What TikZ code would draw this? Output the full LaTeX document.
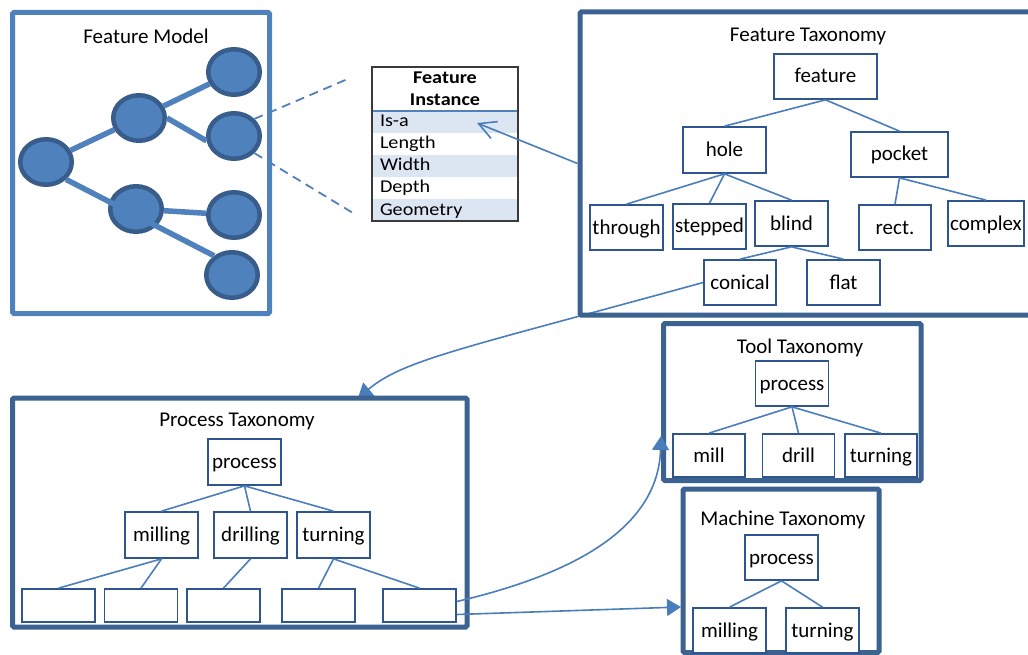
\documentclass[tikz,border=0pt]{standalone}
\usepackage{fontspec}
\setmainfont{Carlito}
\newfontfamily\tblfont[FakeStretch=1.12]{Carlito}
\usetikzlibrary{arrows.meta,calc,shapes.geometric}
\definecolor{fmblue}{HTML}{4F81BD}
\definecolor{ringblue}{HTML}{385D8A}
\definecolor{taxblue}{HTML}{3B6290}
\definecolor{nodeblue}{HTML}{2E5590}
\definecolor{connblue}{HTML}{4A7EBB}
\definecolor{rowfill}{HTML}{DCE6F2}
\definecolor{tblline}{HTML}{3A3A3A}
\pgfdeclarelayer{bg}
\pgfsetlayers{bg,main}
\begin{document}
\begin{tikzpicture}[x=1pt,y=-1pt,
  lbl/.style={font=\fontsize{21}{25}\selectfont, inner sep=0pt},
  tbox/.style={draw=nodeblue, line width=1.7pt, fill=white, inner sep=0pt,
    minimum width=73pt, minimum height=45pt, text height=15pt, text depth=2pt,
    font=\fontsize{21}{25}\selectfont},
  leafbox/.style={tbox, minimum height=33pt},
  taxframe/.style={draw=taxblue, line width=5pt, inner sep=0pt, rounded corners=1.5pt},
  fmframe/.style={draw=fmblue, line width=5pt, inner sep=0pt, rounded corners=1.5pt},
  conn/.style={draw=connblue, line width=1.6pt},
  fmnode/.style={ellipse, draw=ringblue, fill=fmblue, line width=4.5pt,
    minimum width=51.5pt, minimum height=45.5pt, inner sep=0pt},
  fmedge/.style={draw=fmblue, line width=5.5pt},
  dashlink/.style={draw=fmblue, line width=1.8pt, dash pattern=on 9pt off 6pt},
  hdr/.style={font=\tblfont\bfseries\fontsize{18}{22}\selectfont, align=center,
    minimum width=146pt, minimum height=44pt, inner sep=0pt},
  tblrow/.style={font=\tblfont\fontsize{18}{22}\selectfont, text width=130pt, align=left,
    inner xsep=8pt, inner ysep=0pt, minimum height=22pt, text height=13pt, text depth=3pt},
  tiparrow/.style={-{Triangle[length=14pt,width=17pt]}},
  barbarrow/.style={-{Straight Barb[length=17pt,width=18pt]}}
]
\useasboundingbox (0,0) rectangle (1028,655);
\begin{pgfonlayer}{bg}
  \fill[white] (0,0) rectangle (1028,655);
\end{pgfonlayer}

% ---------- Feature model ----------
\node[fmframe, minimum width=257pt, minimum height=301pt] (fm) at (141,163) {};
\node[lbl] (fmtitle) at (146,36) {Feature Model};
\node[fmnode] (c1) at (46,162) {};
\node[fmnode] (c2) at (139,118) {};
\node[fmnode] (c3) at (234,72) {};
\node[fmnode] (c4) at (234,136) {};
\node[fmnode] (c5) at (136,209) {};
\node[fmnode] (c6) at (234,215) {};
\node[fmnode] (c7) at (232,275) {};
\draw[fmedge] (c1) -- (c2);
\draw[fmedge] (c2) -- (c3);
\draw[fmedge] (c2.0) -- (c4.190);
\draw[fmedge] (c5) -- (c6);
\draw[fmedge] (c1.-41) -- (c7.133);

% dashed callout towards the instance table
\coordinate (dtop) at (350,78);
\coordinate (dbot) at (353,213);
\draw[dashlink] (c4.40) -- (dtop);
\draw[dashlink] (c4.-40) -- (dbot);

% ---------- Feature instance table ----------
\node[hdr] (fihead) at (445,89) {Feature\\Instance};
\node[tblrow, fill=rowfill] (isa) at (445,122) {Is-a};
\node[tblrow] (len) at (445,144) {Length};
\node[tblrow, fill=rowfill] (wid) at (445,166) {Width};
\node[tblrow] (dep) at (445,188) {Depth};
\node[tblrow, fill=rowfill] (geo) at (445,210) {Geometry};
\draw[fmblue, line width=1.5pt] (fihead.south west) -- (fihead.south east);
\draw[tblline, line width=1.6pt] (fihead.north west) rectangle (geo.south east);

% ---------- Feature taxonomy ----------
\node[taxframe, minimum width=455pt, minimum height=303pt] (ftax) at (807.5,163.5) {};
\node[lbl] (ftitle) at (808,36) {Feature Taxonomy};
\node[tbox, minimum width=103pt] (feature) at (825.5,76.5) {feature};
\node[tbox, minimum width=83pt, minimum height=46pt] (hole) at (724.5,150) {hole};
\node[tbox, minimum width=97pt] (pocket) at (899.5,154.5) {pocket};
\node[tbox] (through) at (626.5,227.5) {through};
\node[tbox] (stepped) at (709.5,226.5) {stepped};
\node[tbox] (blind) at (791.5,223.5) {blind};
\node[tbox, minimum width=72pt] (rect) at (895,227.5) {rect.};
\node[tbox, minimum width=76pt] (complex) at (986,223.5) {complex};
\node[tbox, minimum width=72pt] (conical) at (740,282.5) {conical};
\node[tbox] (flat) at (843.5,282.5) {flat};
\draw[conn] (feature.south) -- (hole.north);
\draw[conn] (feature.south) -- (pocket.north);
\draw[conn] (hole.south) -- (through.north);
\draw[conn] (hole.south) -- (stepped.north);
\draw[conn] (hole.south) -- (blind.north);
\draw[conn] (pocket.south) -- (rect.north);
\draw[conn] (pocket.south) -- (complex.north);
\draw[conn] (blind.south) -- (conical.north);
\draw[conn] (blind.south) -- (flat.north);

% is-a link into the table
\coordinate (isain) at (477,123);
\draw[conn, barbarrow] (ftax.west) -- (isain);

% ---------- Process taxonomy ----------
\node[taxframe, minimum width=454.5pt, minimum height=229pt] (ptax) at (239.75,512.5) {};
\node[lbl] (ptitle) at (237,421) {Process Taxonomy};
\node[tbox, minimum height=46pt] (pproc) at (244.5,462) {process};
\node[tbox, minimum height=46pt] (pmill) at (161.5,535) {milling};
\node[tbox, minimum height=46pt] (pdrill) at (250.5,535) {drilling};
\node[tbox, minimum height=46pt] (pturn) at (333.5,535) {turning};
\node[leafbox] (l1) at (58.5,605.5) {};
\node[leafbox] (l2) at (141,605.5) {};
\node[leafbox] (l3) at (223.5,605.5) {};
\node[leafbox] (l4) at (318.5,605.5) {};
\node[leafbox] (l5) at (419.5,605.5) {};
\draw[conn] (pproc.south) -- (pmill.north);
\draw[conn] (pproc.south) -- (pdrill.north);
\draw[conn] (pproc.south) -- (pturn.north);
\draw[conn] (pmill.south) -- (l1.north);
\draw[conn] (pmill.south) -- (l2.north);
\draw[conn] (pdrill.south) -- (l3.north);
\draw[conn] (pturn.south) -- (l4.north);
\draw[conn] (pturn.south) -- (l5.north);

% ---------- Tool taxonomy ----------
\node[taxframe, minimum width=257.5pt, minimum height=157pt] (ttax) at (792.25,402) {};
\node[lbl] (ttitle) at (800,348) {Tool Taxonomy};
\node[tbox] (tproc) at (792,383.5) {process};
\node[tbox, minimum width=72pt, minimum height=43pt] (tmill) at (709,455.5) {mill};
\node[tbox, minimum width=72pt, minimum height=43pt] (tdrill) at (798.5,455.5) {drill};
\node[tbox, minimum width=72pt, minimum height=43pt] (tturn) at (881,455.5) {turning};
\draw[conn] (tproc.south) -- (tmill.north);
\draw[conn] (tproc.south) -- (tdrill.north);
\draw[conn] (tproc.south) -- (tturn.north);

% ---------- Machine taxonomy ----------
\node[taxframe, minimum width=196pt, minimum height=163.5pt] (mtax) at (781,570.75) {};
\node[lbl] (mtitle) at (783,520) {Machine Taxonomy};
\node[tbox] (mproc) at (781.5,557.5) {process};
\node[tbox] (mmill) at (729.5,630.5) {milling};
\node[tbox] (mturn) at (822.5,630.5) {turning};
\draw[conn] (mproc.south) -- (mmill.north);
\draw[conn] (mproc.south) -- (mturn.north);

% ---------- links between taxonomies ----------
\coordinate (pin) at (358,398);
\coordinate (tin) at (661,436);
\coordinate (min) at (681,607);
\begin{pgfonlayer}{bg}
  \draw[conn, tiparrow] (conical.west) .. controls (463,348.5) and (404,359.6) .. (pin);
\end{pgfonlayer}
\draw[conn, tiparrow] ([yshift=4pt]l5.east) .. controls (570,575) and (658,530) .. (tin);
\draw[conn, tiparrow] ([yshift=-9pt]l5.east) -- (min);
\end{tikzpicture}
\end{document}
